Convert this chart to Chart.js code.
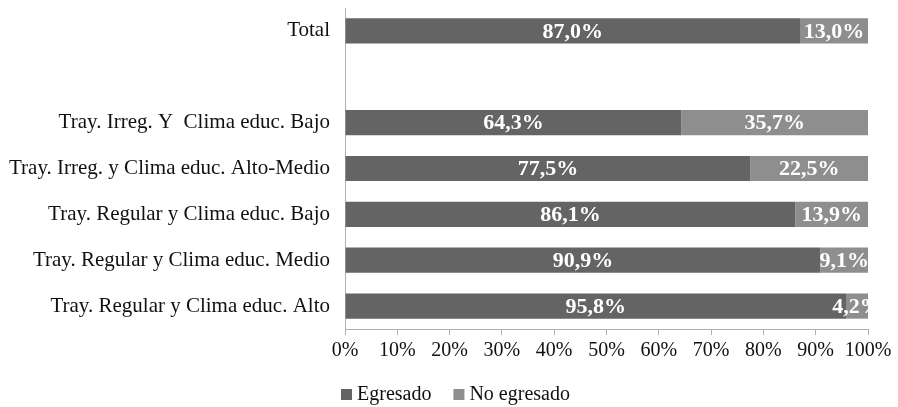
<!DOCTYPE html>
<html>
<head>
<meta charset="utf-8">
<script src="https://cdn.jsdelivr.net/npm/chart.js@4/dist/chart.umd.min.js"></script>
<style>
  html, body { margin: 0; padding: 0; background: #fff; }
  #wrap { width: 898px; height: 407px; }
</style>
</head>
<body>
<div id="wrap"><canvas id="myChart"></canvas></div>
<script>
const categories = [
  "Total",
  "",
  "Tray. Irreg. Y  Clima educ. Bajo",
  "Tray. Irreg. y Clima educ. Alto-Medio",
  "Tray. Regular y Clima educ. Bajo",
  "Tray. Regular y Clima educ. Medio",
  "Tray. Regular y Clima educ. Alto",
];
const egresado = [87.0, null, 64.3, 77.5, 86.1, 90.9, 95.8];
const noEgresado = [13.0, null, 35.7, 22.5, 13.9, 9.1, 4.2];
const xTicks = [0, 10, 20, 30, 40, 50, 60, 70, 80, 90, 100];

const FONT = "'Liberation Serif', 'Times New Roman', serif";

function Fmt(v) {
  return v.toFixed(1).replace(".", ",") + "%";
}

// white bold value labels in the middle of each segment
const barLabels = {
  id: "barLabels",
  afterDatasetsDraw(chart) {
    const ctx = chart.ctx;
    const area = chart.chartArea;
    ctx.save();
    ctx.beginPath();
    ctx.rect(area.left, area.top, area.right - area.left, area.bottom - area.top);
    ctx.clip();
    ctx.fillStyle = "#ffffff";
    ctx.font = "bold 22px " + FONT;
    ctx.textAlign = "center";
    ctx.textBaseline = "middle";
    chart.data.datasets.forEach(function (ds, di) {
      const meta = chart.getDatasetMeta(di);
      meta.data.forEach(function (el, i) {
        const v = ds.data[i];
        if (v == null) return;
        const p = el.getProps(["x", "y", "base"], true);
        ctx.fillText(Fmt(v), (p.x + p.base) / 2, p.y + 1);
      });
    });
    ctx.restore();
  },
};

// legend under the axis: small squares + names
const bottomLegend = {
  id: "bottomLegend",
  afterDraw(chart) {
    const ctx = chart.ctx;
    const ys = 395;
    let x = 341;
    ctx.save();
    ctx.font = "20px " + FONT;
    ctx.textBaseline = "middle";
    ctx.textAlign = "left";
    chart.data.datasets.forEach(function (ds) {
      ctx.fillStyle = ds.backgroundColor;
      ctx.fillRect(x, ys - 6, 11, 11);
      ctx.fillStyle = "#111";
      ctx.fillText(ds.label, x + 16, ys);
      x += 16 + ctx.measureText(ds.label).width + 22;
    });
    ctx.restore();
  },
};

const data = {
  labels: categories,
  datasets: [
    {
      label: "Egresado",
      data: egresado,
      backgroundColor: "#646464",
      barPercentage: 0.55,
      categoryPercentage: 1,
    },
    {
      label: "No egresado",
      data: noEgresado,
      backgroundColor: "#8e8e8e",
      barPercentage: 0.55,
      categoryPercentage: 1,
    },
  ],
};

const config = {
  type: "bar",
  data: data,
  plugins: [barLabels, bottomLegend],
  options: {
    indexAxis: "y",
    responsive: true,
    maintainAspectRatio: false,
    animation: false,
    layout: { padding: { top: 8, right: 30, left: 0, bottom: 40 } },
    plugins: {
      tooltip: { enabled: false },
      legend: { display: false },
    },
    scales: {
      x: {
        stacked: true,
        min: 0,
        max: 100,
        afterBuildTicks: function (scale) {
          scale.ticks = xTicks.map(function (v) { return { value: v }; });
        },
        afterFit: function (scale) { scale.height = 38; },
        grid: {
          drawOnChartArea: false,
          drawTicks: true,
          tickLength: 6,
          color: "#b0b0b0",
        },
        border: { display: true, color: "#b0b0b0" },
        ticks: {
          color: "#111",
          font: { family: FONT, size: 20 },
          padding: 4,
          maxRotation: 0,
          autoSkip: false,
          callback: function (v) { return v + "%"; },
        },
      },
      y: {
        stacked: true,
        afterFit: function (scale) {
          scale.width = 345;
          scale.paddingTop = 0;
          scale.paddingBottom = 0;
        },
        grid: { display: false, drawTicks: false },
        border: { display: true, color: "#b0b0b0" },
        ticks: {
          color: "#111",
          font: { family: FONT, size: 21 },
          padding: 15,
          autoSkip: false,
        },
      },
    },
  },
};

new Chart(document.getElementById("myChart"), config);
</script>
</body>
</html>
